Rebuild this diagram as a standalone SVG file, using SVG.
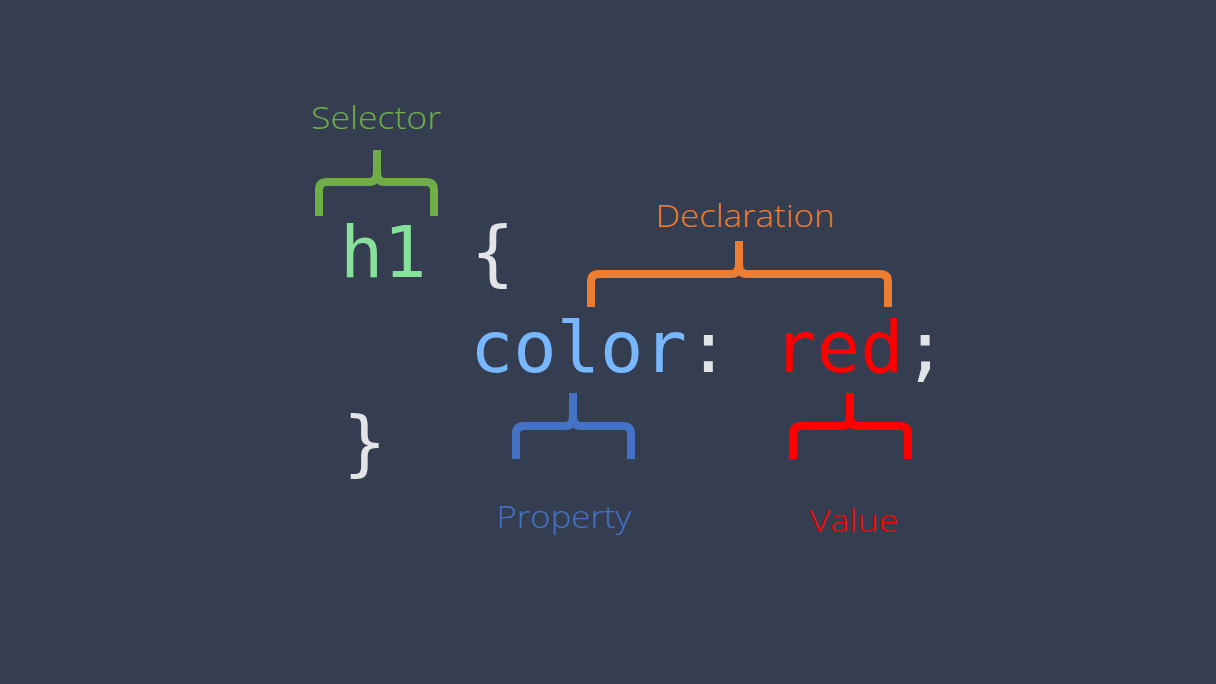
<svg xmlns="http://www.w3.org/2000/svg" width="1216" height="684" viewBox="0 0 1216 684">
<style>
.br{fill:none;stroke-width:8;stroke-linejoin:round}
.lbl{font-family:"Open Sans","DejaVu Sans",sans-serif;font-weight:300;font-size:32px;text-anchor:middle}
.code{font-family:"DejaVu Sans Mono",monospace;font-size:72px}
</style>
<rect width="1216" height="684" fill="#353e50"/>
<g id="code">
<text class="code" x="340" y="277" fill="#86e29b">h1</text>
<text class="code" x="471" y="277" fill="#e3e4e8">{</text>
<text class="code" x="470" y="372"><tspan fill="#78b6fd">color</tspan><tspan fill="#e3e4e8">: </tspan><tspan fill="#ff0000">red</tspan><tspan fill="#e3e4e8">;</tspan></text>
<text class="code" x="343" y="467" fill="#e3e4e8">}</text>
</g>
<g id="selector">
<text class="lbl" x="376" y="129" fill="#70ad47" textLength="130" lengthAdjust="spacingAndGlyphs">Selector</text>
<path class="br" stroke="#70ad47" d="M319,216 V190 Q319,182 327,182 H369 Q377,182 377,172 V150 M377,172 Q377,182 385,182 H426 Q434,182 434,190 V216"/>
</g>
<g id="declaration">
<text class="lbl" x="745" y="227" fill="#ed7d31" textLength="179" lengthAdjust="spacingAndGlyphs">Declaration</text>
<path class="br" stroke="#ed7d31" d="M591,307 V282 Q591,274 599,274 H731 Q739,274 739,264 V241 M739,264 Q739,274 747,274 H880 Q888,274 888,282 V307"/>
</g>
<g id="property">
<text class="lbl" x="564" y="528" fill="#4472c4" textLength="135" lengthAdjust="spacingAndGlyphs">Property</text>
<path class="br" stroke="#4472c4" d="M516,459 V434 Q516,426 524,426 H565 Q573,426 573,416 V393 M573,416 Q573,426 581,426 H623 Q631,426 631,434 V459"/>
</g>
<g id="value">
<text class="lbl" x="854" y="532" fill="#ff0000" textLength="89" lengthAdjust="spacingAndGlyphs">Value</text>
<path class="br" stroke="#ff0000" d="M793,459 V434 Q793,426 801,426 H842 Q850,426 850,416 V393 M850,416 Q850,426 858,426 H900 Q908,426 908,434 V459"/>
</g>
</svg>
